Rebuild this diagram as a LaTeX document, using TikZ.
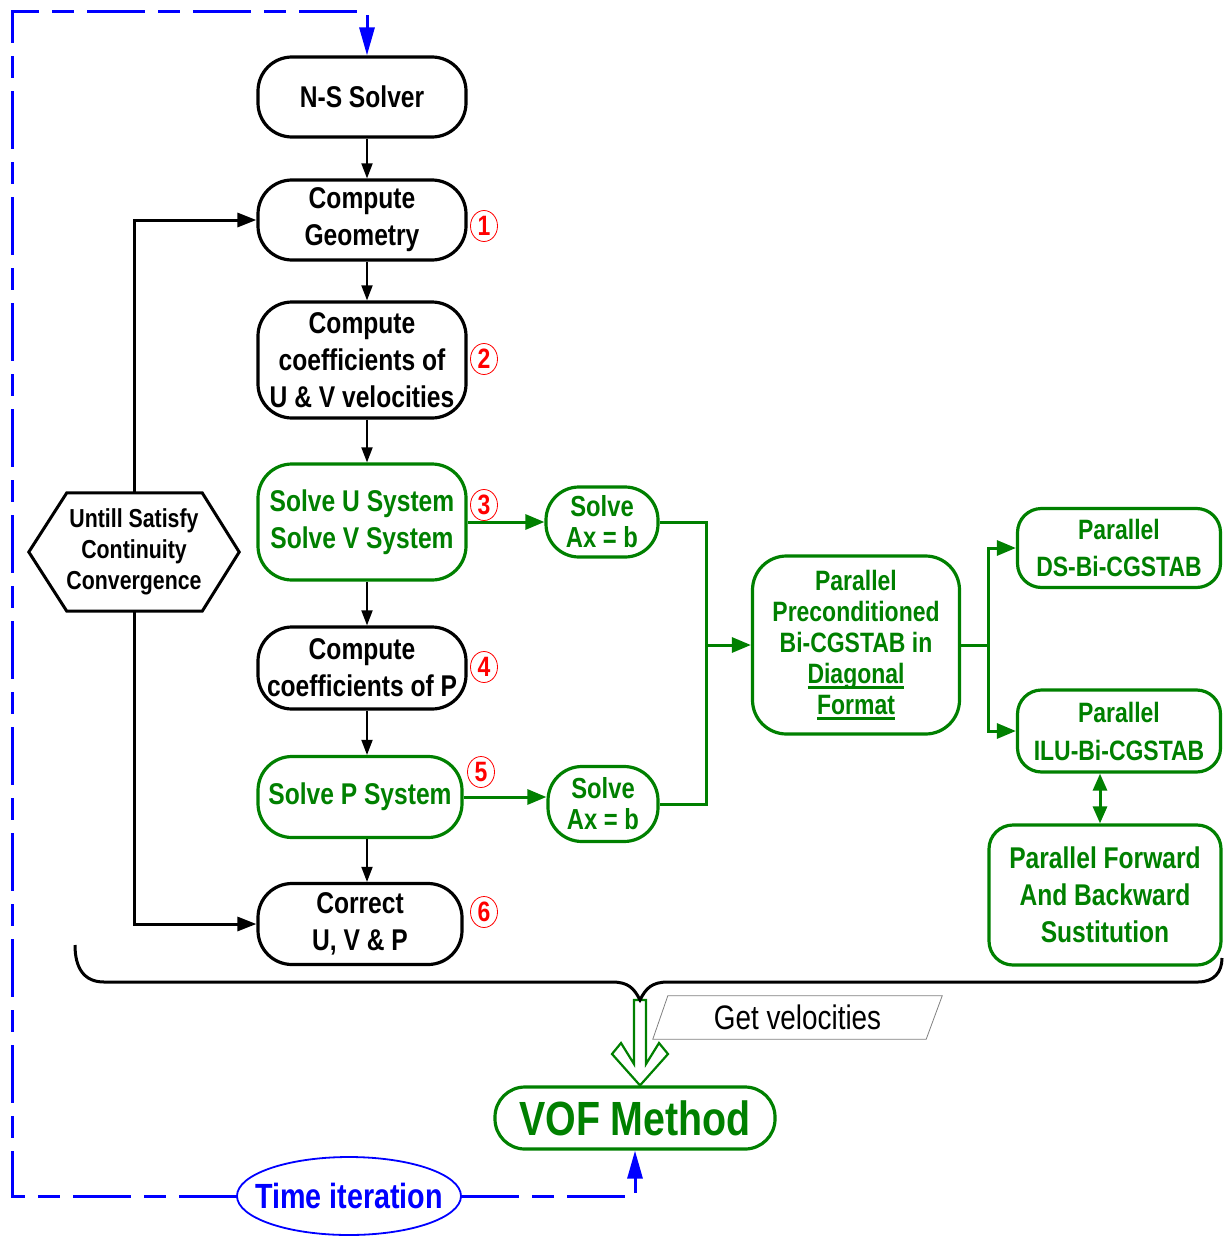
\documentclass[tikz,border=0pt]{standalone}
\usepackage{fontspec}
\setmainfont{Liberation Sans}[FakeStretch=0.82]
\usetikzlibrary{arrows.meta,calc,shapes.geometric}
\definecolor{flowgreen}{RGB}{0,128,0}
\definecolor{loopblue}{RGB}{0,0,255}
\newcommand\fsz[2]{\fontsize{#1}{#2}\selectfont}
% heavier underline for emphasised words
\newcommand\thickul[1]{\setbox0\hbox{#1}\rlap{\rule[-5pt]{\wd0}{2.4pt}}\box0}
\tikzset{
  box/.style={draw, line width=3.2pt, rounded corners=34pt, align=center,
    inner sep=0pt, font=\fsz{30}{37}\bfseries, minimum width=208pt},
  greenbox/.style={box, draw=flowgreen, text=flowgreen},
  num/.style={ellipse, draw=red, line width=0.8pt, text=red, inner sep=0pt,
    minimum width=27pt, minimum height=31pt, font=\fsz{28}{28}\bfseries},
  flow/.style={-{Triangle[length=15pt,width=11pt]}, line width=1.8pt},
  fb/.style={-{Triangle[length=19pt,width=14pt]}, line width=3pt},
  gline/.style={draw=flowgreen, line width=3pt},
  gflow/.style={gline, -{Triangle[length=19pt,width=15pt]}},
  loopline/.style={draw=loopblue, line width=3pt,
    dash pattern=on 58pt off 13pt on 22pt off 13pt,
    -{Triangle[length=28pt,width=15pt]}}
}
\begin{document}
\begin{tikzpicture}[x=1pt,y=-1pt]
\useasboundingbox (0,0) rectangle (1223,1236);
\coordinate (colx) at (367,0);

% main column
\node[box, minimum height=80pt] (ns) at (362,97) {N-S Solver};
\node[box, minimum height=80pt] (geo) at (362,220) {Compute\\Geometry};
\node[box, minimum height=116pt] (cuv) at (362,360) {Compute\\coefficients of\\U \& V velocities};
\node[greenbox, minimum height=116pt] (suv) at (362,522) {Solve U System\\Solve V System};
\node[box, minimum height=82pt] (cp) at (362,668) {Compute\\coefficients of P};
\node[greenbox, minimum width=204pt, minimum height=81pt] (sp) at (360,797) {Solve P System};
\node[box, minimum width=204pt, minimum height=81pt] (cor) at (360,924) {Correct\\U, V \& P};

% step numbers
\node[num] (n1) at (484,226) {1};
\node[num] (n2) at (484,359) {2};
\node[num] (n3) at (484,505) {3};
\node[num] (n4) at (484,667) {4};
\node[num] (n5) at (481,772) {5};
\node[num] (n6) at (484,912) {6};

% convergence check
\node[minimum width=210pt, minimum height=118pt, inner sep=0pt, align=center,
  font=\fsz{26}{31}\bfseries] (hex) at (134,552) {Untill Satisfy\\Continuity\\Convergence};
\draw[line width=3pt] (hex.west) -- ([xshift=38pt]hex.north west) -- ([xshift=-37pt]hex.north east)
  -- (hex.east) -- ([xshift=-37pt]hex.south east) -- ([xshift=38pt]hex.south west) -- cycle;

% linear solver
\node[greenbox, minimum width=112pt, minimum height=70pt, rounded corners=33pt,
  font=\fsz{29}{31}\bfseries] (ax1) at (602,522) {Solve\\Ax = b};
\node[greenbox, minimum width=110pt, minimum height=75pt, rounded corners=34pt,
  font=\fsz{29}{31}\bfseries] (ax2) at (603,804) {Solve\\Ax = b};
\node[greenbox, minimum width=207pt, minimum height=178pt, font=\fsz{28}{31}\bfseries]
  (par) at (856,645) {Parallel\\Preconditioned\\Bi-CGSTAB in\\\thickul{Diagonal}\\\thickul{Format}};
\node[greenbox, minimum width=203pt, minimum height=79pt, rounded corners=24pt,
  font=\fsz{28}{37}\bfseries] (ds) at (1119,548) {Parallel\\DS-Bi-CGSTAB};
\node[greenbox, minimum width=203pt, minimum height=82pt, rounded corners=24pt,
  font=\fsz{28}{38}\bfseries] (ilu) at (1119,731) {Parallel\\ILU-Bi-CGSTAB};
\node[greenbox, minimum width=232pt, minimum height=140pt, rounded corners=24pt]
  (fwd) at (1105,895) {Parallel Forward\\And Backward\\Sustitution};

% VOF stage
\node[greenbox, minimum width=280pt, minimum height=62pt, rounded corners=30pt,
  font=\fsz{48}{48}\bfseries] (vof) at (635,1118) {VOF Method};
\node[minimum width=289pt, minimum height=43pt, inner sep=0pt, font=\fsz{34}{34}]
  (gv) at (797.5,1017.5) {Get velocities};
\draw[gray, line width=0.8pt] ([xshift=15pt]gv.north west) -- (gv.north east)
  -- ([xshift=-16pt]gv.south east) -- (gv.south west) -- cycle;
\node[minimum width=224pt, minimum height=78pt, inner sep=0pt, text=loopblue,
  font=\fsz{35}{35}\bfseries] (ti) at (349,1196) {Time iteration};
\draw[loopblue, line width=1.8pt] (ti.center) ellipse [x radius=112pt, y radius=39pt];

% main column arrows
\draw[flow] (ns.south -| colx) -- (geo.north -| colx);
\draw[flow] (geo.south -| colx) -- (cuv.north -| colx);
\draw[flow] (cuv.south -| colx) -- (suv.north -| colx);
\draw[flow] (suv.south -| colx) -- (cp.north -| colx);
\draw[flow] (cp.south -| colx) -- (sp.north -| colx);
\draw[flow] (sp.south -| colx) -- (cor.north -| colx);

% iteration loop
\draw[fb] (hex.north) |- (geo.west);
\draw[fb] (hex.south) |- (cor.west);

% solver connections
\coordinate (bus) at (706,645);
\coordinate (split) at (988,645);
\coordinate (dx) at (1100,0);
\draw[gflow] (suv.east) -- (ax1.west);
\draw[gflow] (sp.east) -- (sp.east -| ax2.west);
\draw[gline] (ax1.east) -| (bus |- ax2.east) -- (ax2.east);
\draw[gflow] (bus) -- (par.west);
\draw[gline] (par.east) -- (split);
\draw[gflow] (split) |- (ds.west);
\draw[gflow] (split) |- (ilu.west);
\draw[gline, {Triangle[length=17pt,width=14pt]}-{Triangle[length=17pt,width=14pt]}]
  (ilu.south -| dx) -- (fwd.north -| dx);

% hollow arrow into VOF
\coordinate (tip) at (640,1000);
\draw[flowgreen, line width=2.2pt, fill=white, line join=miter]
  (634,1000) -- (634,1064) -- (621,1043) -- (612,1054) -- (vof.north -| tip)
  -- (668,1054) -- (659,1043) -- (646,1064) -- (646,1000) -- cycle;

% brace gathering the steps
\draw[line width=3pt] (75,945) .. controls (75,968) and (84,982) .. (104,982)
  -- (612,982) .. controls (628,982) and (634,988) .. (tip)
  .. controls (646,988) and (652,982) .. (668,982) -- (1198,982)
  .. controls (1214,982) and (1222,972) .. (1222,958);

% time loop
\draw[loopline] (ti.west) -| (12,12) -| ([xshift=5pt]ns.north);
\draw[loopline] (ti.east) -| (vof.south);
\end{tikzpicture}
\end{document}
